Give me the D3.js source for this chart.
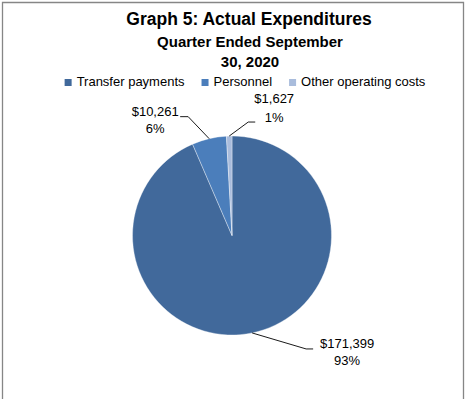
<!DOCTYPE html>
<html>
<head>
<meta charset="utf-8">
<script src="https://cdn.jsdelivr.net/npm/d3@7"></script>
<style>
  body { margin: 0; background: #fff; }
  text { font-family: "Liberation Sans", Arial, sans-serif; fill: #000; }
</style>
</head>
<body>
<div id="vis-container"></div>
<script>
// chart data
var categories = ["Transfer payments", "Personnel", "Other operating costs"];
var amounts = [171399, 10261, 1627];
var amountLabels = ["$171,399", "$10,261", "$1,627"];
var percentLabels = ["93%", "6%", "1%"];
var colors = ["#41699b", "#4b7ebb", "#a9bcdc"];

var titleLines = ["Graph 5: Actual Expenditures", "Quarter Ended September", "30, 2020"];

// leader line / label layout per slice (elbow offset from arc edge, tail length, text placement)
var labelLayout = [
  { ex: 54, ey: 16, tail: 7, tx: 34, ty1: -1, ty2: 16 },
  { ex: -21, ey: -22, tail: -8, tx: -25, ty1: -1, ty2: 16 },
  { ex: 19, ey: -14, tail: 7, tx: 19, ty1: -19, ty2: 0 }
];

var W = 468, H = 403;
var cx = 232, cy = 235.5, radius = 99.5;

var svg = d3.select("#vis-container")
  .append("svg")
    .attr("width", W)
    .attr("height", H);

// chart area border (open at the bottom, cut off)
svg.append("path")
  .attr("d", "M2.5,399 V2.5 H463.5 V399")
  .attr("fill", "none")
  .attr("stroke", "#868686")
  .attr("stroke-width", 1.3);

// titles
svg.append("text")
  .attr("x", 249).attr("y", 25)
  .attr("text-anchor", "middle")
  .style("font-weight", "bold")
  .style("font-size", "17.5px")
  .text(titleLines[0]);

svg.append("text")
  .attr("x", 250).attr("y", 47)
  .attr("text-anchor", "middle")
  .style("font-weight", "bold")
  .style("font-size", "15px")
  .text(titleLines[1]);

svg.append("text")
  .attr("x", 250).attr("y", 67)
  .attr("text-anchor", "middle")
  .style("font-weight", "bold")
  .style("font-size", "15px")
  .text(titleLines[2]);

// legend, laid out from text widths and centred
var legend = svg.append("g");
var lx = 0;
categories.forEach(function(c, i) {
  var item = legend.append("g").attr("transform", "translate(" + lx + ",0)");
  item.append("rect")
    .attr("x", 0).attr("y", -7)
    .attr("width", 7).attr("height", 7)
    .attr("fill", colors[i]);
  var t = item.append("text")
    .attr("x", 12).attr("y", 0)
    .style("font-size", "13px")
    .text(c);
  lx += 12 + t.node().getComputedTextLength() + 17;
});
lx -= 17;
legend.attr("transform", "translate(" + (245 - lx / 2) + ",86)");

// pie
var pie = d3.pie().sort(null).value(function(d) { return d; });
var arcs = pie(amounts);
var arc = d3.arc().innerRadius(0).outerRadius(radius);

var g = svg.append("g").attr("transform", "translate(" + cx + "," + cy + ")");

g.selectAll(".slice")
  .data(arcs)
  .enter()
  .append("path")
    .attr("class", "slice")
    .attr("d", arc)
    .attr("fill", function(d, i) { return colors[i]; })
    .attr("stroke", "#ffffff")
    .attr("stroke-opacity", 0.6)
    .attr("stroke-width", 0.6);

// data labels with leader lines
arcs.forEach(function(d, i) {
  var a = (d.startAngle + d.endAngle) / 2;
  var px = Math.sin(a) * radius, py = -Math.cos(a) * radius;
  var L = labelLayout[i];
  var ex = px + L.ex, ey = py + L.ey;
  g.append("polyline")
    .attr("points", [[px, py], [ex, ey], [ex + L.tail, ey]].map(function(p) { return p.join(","); }).join(" "))
    .attr("fill", "none")
    .attr("stroke", "#000")
    .attr("stroke-width", 0.9);
  var tx = ex + L.tail + L.tx;
  g.append("text")
    .attr("x", tx).attr("y", ey + L.ty1)
    .attr("text-anchor", "middle")
    .style("font-size", "13px")
    .text(amountLabels[i]);
  g.append("text")
    .attr("x", tx).attr("y", ey + L.ty2)
    .attr("text-anchor", "middle")
    .style("font-size", "13px")
    .text(percentLabels[i]);
});
</script>
</body>
</html>
